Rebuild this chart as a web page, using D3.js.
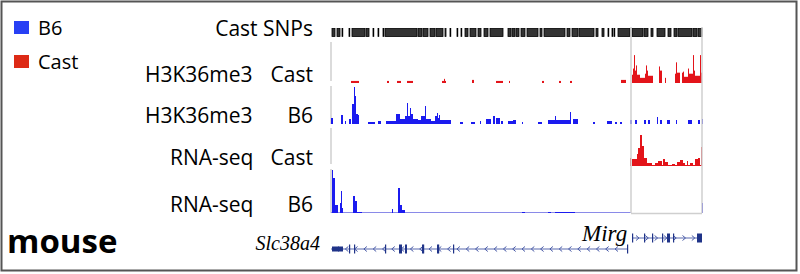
<!DOCTYPE html>
<html>
<head>
<meta charset="utf-8">
<script src="https://cdn.jsdelivr.net/npm/d3@7"></script>
<style>
  html, body { margin: 0; padding: 0; background: #fff; }
  svg { display: block; }
</style>
</head>
<body>
<svg id="chart" width="800" height="274"></svg>
<script>
// positions are offsets along the locus, signal values are coverage units
var locus = [0, 372];

var castSnps = [[1,4],[6,9],[11,11.5],[18,18.5],[21,34],[35,38],[42,42.5],[47,47.5],[52,52.5],
  [54,86],[87,91],[92,97],[99,104],[105,112],[114,115],[119,119.5],[126,126.5],[130,130.5],
  [134,137],[139,145],[147,150],[153,157],[159,172],[177,180],[181,184],[185,188],[190,194],
  [196,207],[209,211],[213,234],[236,239],[241,247],[248,263],[265,267],[271,273],[277,277.5],
  [281,281.5],[283,283.5],[287,299],[301,312],[313,317],[320,322],[326,334],[337,340],
  [343,346],[347,361],[362,366],[367,371]];

var h3Cast = [[20,28,2],[56,58,2],[66,70,2],[76,82,2],[111,115,2],[113,114,4],[141,143,3],
  [165,172,2],[178,179,2],[211,213,2],[228,230,2],[239,241,2],[290,295,3],
  [301,314,5],[301,302,8],[302,303,14],[303,304,27],[304,305,12],[305,306,17],[306,309,8],
  [314,315,9],[315,316,17],[316,317,12],[317,322,7],[328,329,16],[329,331,12],[334,335,5],
  [344,345,9],[345,346,20],[346,349,10],[351,352,10],[352,353,11],[353,357,6],[357,358,14],
  [358,362,9],[362,363,27],[363,364,12],[364,369,7],[369,370,27],[370,371,10]];

var h3B6 = [[0,2,6],[10,12,9],[14,15,3],[18,20,5],[21,23,20],[23,24,37],[24,25,28],[25,27,10],
  [27,28,9],[37,44,2],[47,50,3],[55,65,3],[65,69,10],[69,74,5],[74,76,8],[76,77,21],[77,79,8],
  [79,80,16],[80,82,10],[82,87,5],[87,90,4],[90,94,8],[94,95,18],[95,100,5],[100,104,3],
  [104,106,8],[106,107,11],[107,108,6],[108,109,9],[109,120,4],[129,132,2],[140,144,2],
  [149,150,3],[155,160,5],[162,164,8],[165,169,6],[170,172,3],[177,182,3],[182,185,4],
  [191,192,2],[207,211,2],[217,224,4],[224,225,8],[225,239,4],[239,240,12],[242,247,5],
  [262,264,2],[276,281,3],[284,286,2],[289,291,2],[299,301,4],[304,306,4],[313,315,4],
  [317,319,4],[326,327,7],[329,331,4],[336,339,4],[345,346,4],[357,361,4],[367,369,4],
  [371,372,5]];

var rnaCast = [[301,371,1],[299,300,8],[301,306,7],[306,307,12],[307,309,18],[309,311,31],
  [311,313,20],[313,316,8],[316,321,3],[324,327,3],[327,331,5],[332,334,7],[334,337,4],
  [341,344,2],[346,349,4],[349,352,6],[352,354,3],[356,357,5],[359,362,3],[364,367,7],
  [367,369,8],[370,371,19]];

var rnaB6 = [[1,2,43],[2,4,35],[4,7,8],[9,10,10],[10,11,22],[11,12,5],[22,24,17],[24,26,12],
  [26,31,1],[61,62,4],[67,69,25],[69,71,8],[71,74,3],[191,194,1],[217,220,1],[224,244,1],
  [371,372,10]];

var assays = ['H3K36me3', 'H3K36me3', 'RNA-seq', 'RNA-seq'];
var strains = ['Cast', 'B6', 'Cast', 'B6'];
var legendStrains = ['B6', 'Cast'];

var slcSpan = [0, 297];
var slcExons = [[18,18.6],[23,23.6],[54,54.6],[68,71],[74,76],[91,91.6],[92,92.6],
  [106,106.6],[107,107.6],[122,122.6],[296,297]];
var slcUtr = [[1,12]];
var mirgSpan = [301, 371];
var mirgExons = [[301,301.6],[313,313.6],[321,321.6],[331,331.6],[336,339],[342,342.6],[366,371]];

var blue = '#1b1bef', red = '#e3141a', grid = '#cfcfcf';
var fontSans = '"Open Sans", "Noto Sans", sans-serif';

var svg = d3.select('#chart');
var x = d3.scaleLinear().domain(locus).range([331, 703]);

svg.append('rect')
    .attr('x', 1.5).attr('y', 1.5).attr('width', 795).attr('height', 269)
    .attr('fill', 'none').attr('stroke', '#555').attr('stroke-width', 2);

// legend
var legend = svg.append('g').selectAll('g').data(legendStrains).enter().append('g')
    .attr('transform', function(d, i) { return 'translate(14,' + (21 + i * 34) + ')'; });
legend.append('rect')
    .attr('width', 15).attr('height', 13)
    .attr('fill', function(d) { return d === 'B6' ? '#2840f4' : '#dd2a16'; });
legend.append('text')
    .attr('x', 24).attr('y', 13.5)
    .style('font-family', fontSans).style('font-size', '20px')
    .text(function(d) { return d; });

// snp track
svg.append('text')
    .attr('x', 313).attr('y', 36).attr('text-anchor', 'end')
    .style('font-family', fontSans).style('font-size', '21px')
    .text('Cast SNPs');
svg.append('g').selectAll('rect').data(castSnps).enter().append('rect')
    .attr('x', function(d) { return x(d[0]); })
    .attr('width', function(d) { return Math.max(0.8, x(d[1]) - x(d[0])); })
    .attr('y', 28.5).attr('height', 8)
    .attr('fill', '#333').attr('stroke', '#000').attr('stroke-width', 0.8);

// signal tracks
var tracks = [
    { data: h3Cast,  color: red,  base: 83,  top: 52,  max: 30, startX: 145, frame: [42, 81] },
    { data: h3B6,    color: blue, base: 124, top: 84,  max: 40, startX: 145, frame: [86, 124] },
    { data: rnaCast, color: red,  base: 166, top: 134, max: 32, startX: 170, frame: [128, 164] },
    { data: rnaB6,   color: blue, base: 213, top: 169, max: 44, startX: 170, frame: [169, 213] }
];

tracks.forEach(function(t, i) {
    var y = d3.scaleLinear().domain([0, t.max]).range([t.base, t.top]);
    var g = svg.append('g');

    g.append('line')
        .attr('x1', x(0)).attr('x2', x(0))
        .attr('y1', t.frame[0]).attr('y2', t.frame[1])
        .attr('stroke', grid).attr('stroke-width', 1.5);

    if (i === 3) {
        g.append('line')
            .attr('x1', x(0)).attr('x2', x(300))
            .attr('y1', t.base - 0.5).attr('y2', t.base - 0.5)
            .attr('stroke', '#8a8ae8').attr('stroke-width', 1);
    }

    g.selectAll('rect').data(t.data).enter().append('rect')
        .attr('x', function(d) { return x(d[0]); })
        .attr('width', function(d) { return Math.max(1, x(d[1]) - x(d[0])); })
        .attr('y', function(d) { return y(d[2]); })
        .attr('height', function(d) { return t.base - y(d[2]); })
        .attr('fill', t.color);

    svg.append('text')
        .attr('x', t.startX).attr('y', t.base - 1)
        .style('font-family', fontSans).style('font-size', '21px')
        .text(assays[i]);
    svg.append('text')
        .attr('x', 313).attr('y', t.base - 1).attr('text-anchor', 'end')
        .style('font-family', fontSans).style('font-size', '21px')
        .text(strains[i]);
});

// Mirg highlight box
var box = svg.append('g').attr('stroke', grid).attr('stroke-width', 1.5).attr('fill', 'none');
box.append('line').attr('x1', x(300)).attr('x2', x(300)).attr('y1', 27).attr('y2', 213);
box.append('line').attr('x1', x(371)).attr('x2', x(371)).attr('y1', 27).attr('y2', 213);
box.append('line').attr('x1', x(300)).attr('x2', x(371)).attr('y1', 213.5).attr('y2', 213.5);

// gene models
function drawGene(span, exons, utrs, yc, strand) {
    var g = svg.append('g');
    g.append('line')
        .attr('x1', x(span[0])).attr('x2', x(span[1]))
        .attr('y1', yc).attr('y2', yc)
        .attr('stroke', '#5a6bb0').attr('stroke-width', 1.2);
    var chev = d3.range(x(span[0]) + 6, x(span[1]) - 3, 9.3);
    g.selectAll('path.chev').data(chev).enter().append('path')
        .attr('d', function(d) {
            return strand < 0 ? 'M' + (d + 2) + ',' + (yc - 2.5) + 'L' + (d - 1) + ',' + yc + 'L' + (d + 2) + ',' + (yc + 2.5)
                              : 'M' + (d - 2) + ',' + (yc - 2.5) + 'L' + (d + 1) + ',' + yc + 'L' + (d - 2) + ',' + (yc + 2.5);
        })
        .attr('fill', 'none').attr('stroke', '#4a5ca8').attr('stroke-width', 1);
    g.selectAll('rect.exon').data(exons).enter().append('rect')
        .attr('x', function(d) { return x(d[0]); })
        .attr('width', function(d) { return Math.max(1.2, x(d[1]) - x(d[0])); })
        .attr('y', yc - 4.5).attr('height', 9)
        .attr('fill', '#1f3388');
    g.selectAll('rect.utr').data(utrs).enter().append('rect')
        .attr('x', function(d) { return x(d[0]); })
        .attr('width', function(d) { return x(d[1]) - x(d[0]); })
        .attr('y', yc - 2.5).attr('height', 5)
        .attr('fill', '#1f3388');
}
drawGene(slcSpan, slcExons, slcUtr, 249, -1);
drawGene(mirgSpan, mirgExons, [], 238, 1);

svg.append('text')
    .attr('x', 320).attr('y', 250).attr('text-anchor', 'end')
    .style('font-family', '"Liberation Serif", "DejaVu Serif", serif')
    .style('font-style', 'italic').style('font-size', '20px')
    .text('Slc38a4');
svg.append('text')
    .attr('x', 582).attr('y', 241)
    .style('font-family', '"Liberation Serif", "DejaVu Serif", serif')
    .style('font-style', 'italic').style('font-size', '23px')
    .text('Mirg');

svg.append('text')
    .attr('x', 7).attr('y', 253)
    .style('font-family', fontSans).style('font-weight', 'bold').style('font-size', '33px')
    .text('mouse');
</script>
</body>
</html>
